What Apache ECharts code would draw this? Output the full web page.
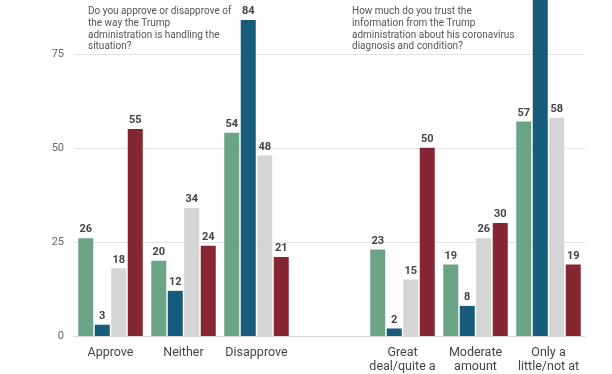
<!DOCTYPE html>
<html><head><meta charset="utf-8">
<script src="https://cdn.jsdelivr.net/npm/echarts@6/dist/echarts.min.js"></script>
<style>html,body{margin:0;padding:0;background:#fff}#c{width:612px;height:374px}</style>
</head><body><div id="c"></div>
<script>
const categories = ['Approve', 'Neither', 'Disapprove', '', 'Great\ndeal/quite a', 'Moderate\namount', 'Only a\nlittle/not at'];
const seriesNames = ['Total', 'Democrats', 'Independents', 'Republicans'];
const total = [26, 20, 54, null, 23, 19, 57];
const democrats = [3, 12, 84, null, 2, 8, 93];
const independents = [18, 34, 48, null, 15, 26, 58];
const republicans = [55, 24, 21, null, 50, 30, 19];
const yTicks = [0, 25, 50, 75];
const question1 = 'Do you approve or disapprove of\nthe way the Trump\nadministration is handling the\nsituation?';
const question2 = 'How much do you trust the\ninformation from the Trump\nadministration about his coronavirus\ndiagnosis and condition?';

const colors = ['#6aa386', '#175b7b', '#d5d5d5', '#862632'];
const values = [total, democrats, independents, republicans];
const yMax = 89.3;
const chart = echarts.init(document.getElementById('c'), null, {renderer: 'canvas'});
chart.setOption({
  animation: false,
  grid: {left: 74, right: 27, top: 0, bottom: 35.5, containLabel: false},
  xAxis: {
    type: 'category', data: categories,
    axisLine: {show: true, lineStyle: {color: '#d9d9d9', width: 1}},
    axisTick: {show: false},
    axisLabel: {color: '#444', fontFamily: 'Roboto', fontSize: 12.5, lineHeight: 14, margin: 10, interval: 0}
  },
  yAxis: {
    type: 'value', min: 0, max: yMax, interval: 25,
    axisLine: {show: false}, axisTick: {show: false},
    axisLabel: {color: '#666', fontFamily: 'Roboto', fontSize: 11, margin: 10, showMaxLabel: false,
      formatter: v => yTicks.indexOf(v) >= 0 ? String(v) : ''},
    splitLine: {showMaxLine: false, lineStyle: {color: '#e3e3e3', width: 1}}
  },
  series: values.map((arr, i) => ({
    name: seriesNames[i], type: 'bar',
    data: arr.map(v => (v !== null && v > yMax) ? {value: v, label: {show: false}} : v),
    barWidth: 15, barGap: '10%',
    itemStyle: {color: colors[i]},
    label: {show: true, position: 'top', distance: 3, color: '#444', fontFamily: 'Roboto', fontSize: 11, fontWeight: 'bold'}
  })),
  graphic: [
    {type: 'text', z: 100, left: 88, top: 6, style: {text: question1, fill: '#555', fontFamily: 'Roboto', fontSize: 10, lineHeight: 11.7}},
    {type: 'text', z: 100, left: 352, top: 6, style: {text: question2, fill: '#555', fontFamily: 'Roboto', fontSize: 10, lineHeight: 11.7}}
  ]
});
</script></body></html>
